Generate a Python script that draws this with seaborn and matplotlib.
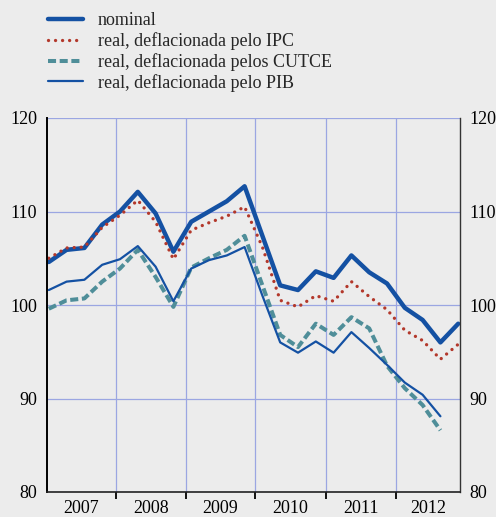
import numpy as np
import pandas as pd
import matplotlib
matplotlib.use("Agg")
import matplotlib.pyplot as plt
import seaborn as sns

# quarterly index values, 2007 Q1 .. 2012 Q4
years = ["2007", "2008", "2009", "2010", "2011", "2012"]
quarter = list(range(24))

nominal = [104.6, 105.9, 106.1, 108.6, 110.0, 112.1, 109.8, 105.7,
           108.9, 110.0, 111.1, 112.7, 107.4, 102.1, 101.6, 103.6,
           102.9, 105.3, 103.5, 102.3, 99.7, 98.4, 96.0, 98.0]
real_ipc = [105.0, 106.1, 106.2, 108.3, 109.6, 111.2, 108.9, 104.9,
            108.0, 108.8, 109.5, 110.5, 106.2, 100.5, 99.8, 101.0,
            100.4, 102.5, 100.9, 99.5, 97.3, 96.2, 94.2, 95.8]
real_cutce = [99.6, 100.5, 100.7, 102.5, 103.9, 105.9, 103.0, 99.8,
              104.0, 105.0, 105.9, 107.4, 102.1, 96.8, 95.5, 98.0,
              96.8, 98.7, 97.5, 93.5, 91.1, 89.3, 86.6, np.nan]
real_pib = [101.6, 102.5, 102.7, 104.3, 104.9, 106.3, 104.1, 100.4,
            103.9, 104.8, 105.3, 106.2, 101.0, 96.0, 94.9, 96.1,
            94.9, 97.1, 95.4, 93.6, 91.7, 90.4, 88.1, np.nan]

df = pd.DataFrame({"q": quarter, "nominal": nominal, "ipc": real_ipc,
                   "cutce": real_cutce, "pib": real_pib})

sns.set_theme(style="white")
plt.rcParams["font.family"] = ["Liberation Serif", "DejaVu Serif"]

bg = "#ececec"
blue = "#1451a3"
red = "#b3382b"
teal = "#4f8e99"
grid = "#9ba6e2"
fs = 13

fig = plt.figure(figsize=(4.96, 5.17), dpi=100, facecolor=bg)
ax = fig.add_axes([47 / 496, 25 / 517, 413 / 496, 374 / 517])
ax.set_facecolor(bg)

sns.lineplot(data=df, x="q", y="nominal", ax=ax, color=blue, linewidth=3.2,
             label="nominal")
sns.lineplot(data=df, x="q", y="ipc", ax=ax, color=red, linewidth=2.4,
             linestyle=(0, (0.01, 2.1)), dash_capstyle="round",
             label="real, deflacionada pelo IPC")
sns.lineplot(data=df, x="q", y="cutce", ax=ax, color=teal, linewidth=2.9,
             linestyle=(0, (2.0, 0.9)), label="real, deflacionada pelos CUTCE")
sns.lineplot(data=df, x="q", y="pib", ax=ax, color=blue, linewidth=1.6,
             label="real, deflacionada pelo PIB")

ax.set_xlim(-0.1, 23.1)
ax.set_ylim(80, 120)
ax.set_xlabel("")
ax.set_ylabel("")

# year boundaries (major) and year labels centred in between (minor)
bounds = [3.75, 7.7, 11.6, 15.55, 19.5]
edges = [-0.1] + bounds + [23.1]
centers = [(a + b) / 2 for a, b in zip(edges[:-1], edges[1:])]
ax.set_xticks(bounds)
ax.set_xticklabels([])
ax.set_xticks(centers, minor=True)
ax.set_xticklabels(years, minor=True)
ax.tick_params(axis="x", which="major", direction="out", length=5, width=1.3,
               color="black", bottom=True)
ax.tick_params(axis="x", which="minor", length=0, pad=5.5, labelsize=fs,
               labelcolor="black")

ax.set_yticks([80, 90, 100, 110, 120])
ax.tick_params(axis="y", which="both", length=0, pad=7, labelsize=fs,
               labelcolor="black", left=False, right=False,
               labelleft=True, labelright=True)

ax.grid(True, which="major", color=grid, linewidth=0.9)
ax.set_axisbelow(True)

ax.spines["top"].set_visible(False)
ax.spines["left"].set_color("black")
ax.spines["left"].set_linewidth(1.4)
ax.spines["right"].set_color("#333333")
ax.spines["right"].set_linewidth(1.0)
ax.spines["bottom"].set_color("#222222")
ax.spines["bottom"].set_linewidth(1.2)

handles, labels = ax.get_legend_handles_labels()
ax.get_legend().remove()
fig.legend(handles, labels, loc="upper left", bbox_to_anchor=(0.075, 0.997),
           frameon=False, fontsize=fs, handlelength=1.95, handletextpad=0.8,
           labelspacing=0.16, borderaxespad=0.2)

fig.savefig("out.png", dpi=100, facecolor=bg)
